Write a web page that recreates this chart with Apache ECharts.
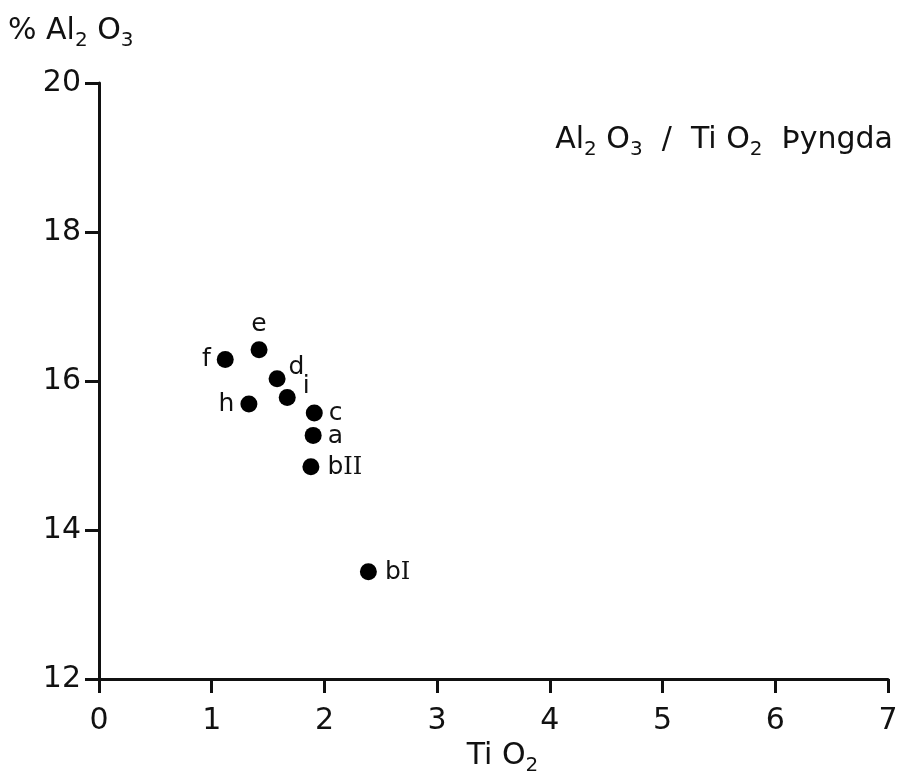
<!DOCTYPE html>
<html>
<head>
<meta charset="utf-8">
<script src="https://cdn.jsdelivr.net/npm/echarts@6/dist/echarts.min.js"></script>
<style>
  html, body { margin: 0; padding: 0; background: #fff; }
  #chart { width: 897px; height: 772px; }
</style>
</head>
<body>
<div id="chart"></div>
<script>
// samples (TiO2 %, Al2O3 %)
var sampleNames = ["f", "e", "d", "h", "i", "c", "a", "bII", "bI"];
var tio2 = [1.12, 1.42, 1.58, 1.33, 1.67, 1.91, 1.90, 1.88, 2.39];
var al2o3 = [16.29, 16.42, 16.03, 15.69, 15.78, 15.57, 15.27, 14.85, 13.44];

var xTicks = [0, 1, 2, 3, 4, 5, 6, 7];
var yTicks = [12, 14, 16, 18, 20];

// where each point's letter sits
var labelPlace = {
  f: { position: "left", offset: [0, 0] },
  e: { position: "top", offset: [0, 2] },
  d: { position: "right", offset: [-3, -11] },
  h: { position: "left", offset: [0, 0] },
  i: { position: "right", offset: [1, -11] },
  c: { position: "right", offset: [0, 0] },
  a: { position: "right", offset: [0, 1] },
  bII: { position: "right", offset: [2, 1] },
  bI: { position: "right", offset: [2, 1] }
};

var font = "DejaVu Sans";
var ink = "#111";

function labelText(name) {
  // roman numerals drawn in a serif face
  if (name === "bII") return "{t|b}{r|II}";
  if (name === "bI") return "{t|b}{r|I}";
  return "{t|" + name + "}";
}

var points = sampleNames.map(function (n, i) {
  return {
    name: n,
    value: [tio2[i], al2o3[i]],
    label: {
      position: labelPlace[n].position,
      offset: labelPlace[n].offset
    }
  };
});

// main text + subscript digits
var subRich = {
  m: { fontFamily: font, fontSize: 30, fontWeight: "normal", lineHeight: 30, verticalAlign: "top", color: ink },
  s: { fontFamily: font, fontSize: 20, fontWeight: "normal", lineHeight: 35, verticalAlign: "bottom", color: ink }
};

var chart = echarts.init(document.getElementById("chart"));
chart.setOption({
  animation: false,
  backgroundColor: "#fff",
  title: [
    {
      text: "{m|Al}{s|2}{m| O}{s|3}{m|  /  Ti O}{s|2}{m|  Þyngda}",
      right: 4,
      top: 125,
      padding: 0,
      textStyle: { fontWeight: "normal", rich: subRich }
    },
    {
      text: "{m|% Al}{s|2}{m| O}{s|3}",
      left: 8,
      top: 16,
      padding: 0,
      textStyle: { fontWeight: "normal", rich: subRich }
    }
  ],
  grid: { left: 99, right: 9, top: 83, bottom: 93, outerBoundsMode: "none" },
  xAxis: {
    type: "value",
    min: 0,
    max: 7,
    interval: 1,
    name: "{m|Ti O}{s|2}",
    nameLocation: "middle",
    nameGap: 58,
    nameTextStyle: { rich: subRich, padding: [0, 0, 0, 18] },
    axisLine: { onZero: false, lineStyle: { color: ink, width: 3 } },
    axisTick: { length: 14, lineStyle: { color: ink, width: 3 } },
    axisLabel: {
      margin: 27,
      fontFamily: font,
      fontSize: 30,
      color: ink,
      formatter: function (v) { return xTicks.indexOf(v) >= 0 ? String(v) : ""; }
    },
    splitLine: { show: false }
  },
  yAxis: {
    type: "value",
    min: 12,
    max: 20,
    interval: 2,
    axisLine: { show: true, onZero: false, lineStyle: { color: ink, width: 3 } },
    axisTick: { show: true, length: 14, lineStyle: { color: ink, width: 3 } },
    axisLabel: {
      margin: 18,
      fontFamily: font,
      fontSize: 30,
      color: ink,
      formatter: function (v) { return yTicks.indexOf(v) >= 0 ? String(v) : ""; }
    },
    splitLine: { show: false }
  },
  series: [
    {
      type: "scatter",
      symbol: "circle",
      symbolSize: 17,
      itemStyle: { color: "#000", opacity: 1 },
      data: points,
      label: {
        show: true,
        distance: 6,
        opacity: 1,
        formatter: function (p) { return labelText(p.name); },
        rich: {
          t: { fontFamily: font, fontSize: 25, color: ink, opacity: 1 },
          r: { fontFamily: "DejaVu Serif", fontSize: 24, color: ink, opacity: 1 }
        }
      }
    }
  ]
});
</script>
</body>
</html>
